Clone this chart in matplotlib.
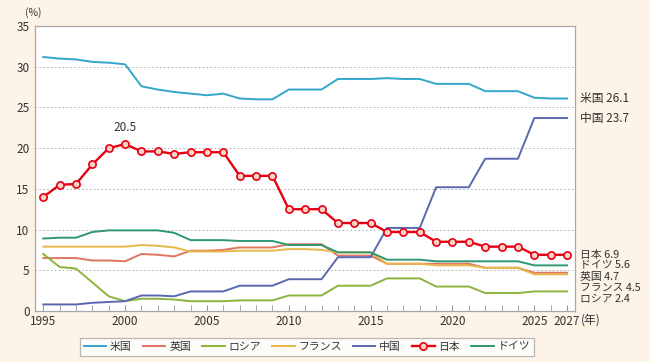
"""G7+China share of world GDP, 1995-2027, with end-of-series labels."""

from __future__ import annotations

import matplotlib

matplotlib.use("Agg")

import matplotlib.pyplot as plt
from matplotlib.ticker import MultipleLocator

plt.rcParams["font.family"] = ["Noto Sans CJK JP", "DejaVu Sans"]

years = list(range(1995, 2028))

us = [31.2, 31.0, 30.9, 30.6, 30.5, 30.3, 27.6, 27.2, 26.9, 26.7,
      26.5, 26.7, 26.1, 26.0, 26.0, 27.2, 27.2, 27.2, 28.5, 28.5,
      28.5, 28.6, 28.5, 28.5, 27.9, 27.9, 27.9, 27.0, 27.0, 27.0,
      26.2, 26.1, 26.1]
uk = [6.5, 6.5, 6.5, 6.2, 6.2, 6.1, 7.0, 6.9, 6.7, 7.4,
      7.4, 7.5, 7.8, 7.8, 7.8, 8.2, 8.2, 8.2, 6.8, 6.8,
      6.8, 5.8, 5.8, 5.8, 5.8, 5.8, 5.8, 5.3, 5.3, 5.3,
      4.7, 4.7, 4.7]
russia = [7.0, 5.4, 5.2, 3.5, 1.8, 1.2, 1.5, 1.5, 1.4, 1.2,
          1.2, 1.2, 1.3, 1.3, 1.3, 1.9, 1.9, 1.9, 3.1, 3.1,
          3.1, 4.0, 4.0, 4.0, 3.0, 3.0, 3.0, 2.2, 2.2, 2.2,
          2.4, 2.4, 2.4]
france = [7.9, 7.9, 7.9, 7.9, 7.9, 7.9, 8.1, 8.0, 7.8, 7.3,
          7.3, 7.3, 7.4, 7.4, 7.4, 7.6, 7.6, 7.5, 7.2, 7.2,
          7.2, 5.8, 5.8, 5.8, 5.6, 5.6, 5.6, 5.3, 5.3, 5.3,
          4.5, 4.5, 4.5]
china = [0.8, 0.8, 0.8, 1.0, 1.1, 1.2, 1.9, 1.9, 1.8, 2.4,
         2.4, 2.4, 3.1, 3.1, 3.1, 3.9, 3.9, 3.9, 6.6, 6.6,
         6.6, 10.2, 10.2, 10.2, 15.2, 15.2, 15.2, 18.7, 18.7, 18.7,
         23.7, 23.7, 23.7]
japan = [14.0, 15.5, 15.6, 18.0, 20.0, 20.5, 19.6, 19.6, 19.3, 19.5,
         19.5, 19.5, 16.6, 16.6, 16.6, 12.5, 12.5, 12.5, 10.8, 10.8,
         10.8, 9.7, 9.7, 9.7, 8.5, 8.5, 8.5, 7.9, 7.9, 7.9,
         6.9, 6.9, 6.9]
germany = [8.9, 9.0, 9.0, 9.7, 9.9, 9.9, 9.9, 9.9, 9.6, 8.7,
           8.7, 8.7, 8.6, 8.6, 8.6, 8.1, 8.1, 8.1, 7.2, 7.2,
           7.2, 6.3, 6.3, 6.3, 6.1, 6.1, 6.1, 6.1, 6.1, 6.1,
           5.6, 5.6, 5.6]

names = ["米国", "英国", "ロシア", "フランス", "中国", "日本", "ドイツ"]
end_labels = ["米国 26.1", "中国 23.7", "日本 6.9", "ドイツ 5.6",
              "英国 4.7", "フランス 4.5", "ロシア 2.4"]
x_ticks = [1995, 2000, 2005, 2010, 2015, 2020, 2025, 2027]

COLORS = {
    "米国": "#33a6cc",
    "英国": "#e07560",
    "ロシア": "#8cb43c",
    "フランス": "#e8b84c",
    "中国": "#5a68b0",
    "日本": "#e50012",
    "ドイツ": "#2f9870",
}
BG = "#fdf3e6"
TEXT = "#333333"


def plot_shares(path: str = "out.png"):
    """Draw all series, end labels and the boxed legend below."""
    fig = plt.figure(figsize=(6.5, 3.62), dpi=100, facecolor=BG)
    ax = fig.add_axes([0.054, 0.141, 0.831, 0.787])
    ax.set_facecolor("white")

    series = [us, uk, russia, france, china, japan, germany]
    handles = []
    for name, vals in zip(names, series):
        if name == "日本":
            (h,) = ax.plot(years, vals, color=COLORS[name], linewidth=1.7, marker="o",
                           markersize=5.2, markerfacecolor="#fbd3c6",
                           markeredgecolor=COLORS[name], markeredgewidth=1.2,
                           label=name, zorder=5)
        else:
            (h,) = ax.plot(years, vals, color=COLORS[name], linewidth=1.4,
                           label=name, zorder=3)
        handles.append(h)

    ax.set_xlim(1994.5, 2027.5)
    ax.set_ylim(0, 35)
    ax.set_xticks(x_ticks)
    ax.xaxis.set_minor_locator(MultipleLocator(1))
    ax.yaxis.set_major_locator(MultipleLocator(5))
    ax.tick_params(axis="x", which="both", direction="in", length=4,
                   color="#999999", labelsize=8.5, labelcolor=TEXT, pad=3)
    ax.tick_params(axis="y", length=0, labelsize=8.5, labelcolor=TEXT, pad=4)

    for v in range(5, 35, 5):
        ax.axhline(v, color="#aaaaaa", linewidth=0.7, linestyle=(0, (1.5, 2.5)), zorder=1)
    for spine in ax.spines.values():
        spine.set_color("#a8a8a8")
        spine.set_linewidth(0.9)

    # peak label and units
    ax.annotate("20.5", xy=(2000, 20.5), xytext=(0, 7), textcoords="offset points",
                ha="center", va="bottom", fontsize=8.5, color=TEXT)
    fig.text(0.038, 0.965, "(%)", fontsize=7.5, color=TEXT, ha="left", va="center")
    fig.text(0.894, 0.116, "(年)", fontsize=8.5, color=TEXT, ha="left", va="center")

    # end-of-series labels; the bottom five are stacked tightly
    label_y = [26.1, 23.7, 6.9, 5.55, 4.2, 2.85, 1.5]
    label_size = [8.5, 8.5, 7.8, 7.8, 7.8, 7.8, 7.8]
    for text, y, size in zip(end_labels, label_y, label_size):
        ax.text(1.008, y, text, transform=ax.get_yaxis_transform(),
                fontsize=size, color=TEXT, ha="left", va="center", clip_on=False)

    leg = ax.legend(handles=handles, loc="center", bbox_to_anchor=(0.472, 0.042),
                    bbox_transform=fig.transFigure, ncol=7,
                    frameon=True, fancybox=False, fontsize=7.8,
                    handlelength=2.1, handletextpad=0.35, columnspacing=1.0,
                    borderpad=0.35)
    leg.get_frame().set_edgecolor("#a8a8a8")
    leg.get_frame().set_linewidth(0.9)
    for t in leg.get_texts():
        t.set_color(TEXT)

    fig.savefig(path, dpi=100, facecolor=BG)
    return ax


if __name__ == "__main__":
    plot_shares("out.png")
